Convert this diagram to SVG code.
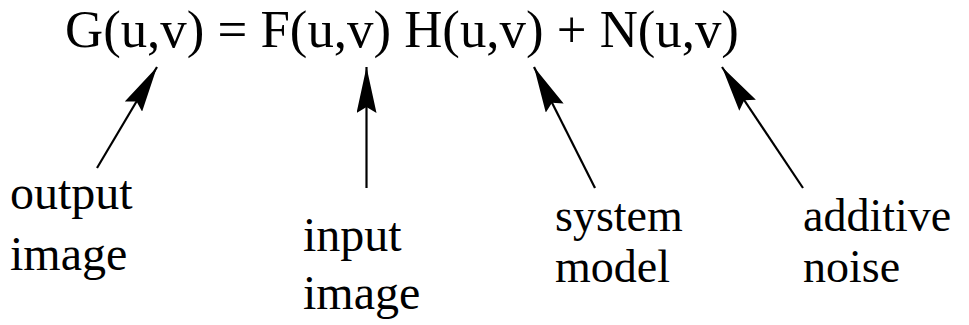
<svg xmlns="http://www.w3.org/2000/svg" width="969" height="325" viewBox="0 0 969 325">
<style>
.eq{font-family:"Liberation Serif","Times New Roman",serif;font-size:52.8px;fill:#000}
.lb{font-family:"Liberation Serif","Times New Roman",serif;font-size:46px;fill:#000}
.lb2{font-size:48px}
.c line{stroke:#000;stroke-width:2.2;fill:none}
</style>
<defs>
<marker id="ah" viewBox="0 0 46 20" refX="46" refY="10" markerWidth="46" markerHeight="20" markerUnits="userSpaceOnUse" orient="auto">
<path d="M0,0 L46,10 L0,20 L6,10 Z" fill="#000"/>
</marker>
</defs>
<rect width="969" height="325" fill="#fff"/>
<g id="equation"><text class="eq" x="65" y="47">G(u,v) = F(u,v) H(u,v) + N(u,v)</text></g>
<g class="c" id="connectors">
<line x1="97" y1="168" x2="157" y2="67" marker-end="url(#ah)"/>
<line x1="366.5" y1="188" x2="366.5" y2="67" marker-end="url(#ah)"/>
<line x1="595" y1="188" x2="534" y2="67" marker-end="url(#ah)"/>
<line x1="803" y1="188" x2="722" y2="67" marker-end="url(#ah)"/>
</g>
<g id="output-image"><text class="lb lb2" x="10" y="209">output</text><text class="lb lb2" x="10" y="270">image</text></g>
<g id="input-image"><text class="lb lb2" x="303" y="251">input</text><text class="lb lb2" x="303" y="309">image</text></g>
<g id="system-model"><text class="lb" x="555" y="231">system</text><text class="lb" x="555" y="282">model</text></g>
<g id="additive-noise"><text class="lb" x="803" y="231">additive</text><text class="lb" x="803" y="282">noise</text></g>
</svg>
